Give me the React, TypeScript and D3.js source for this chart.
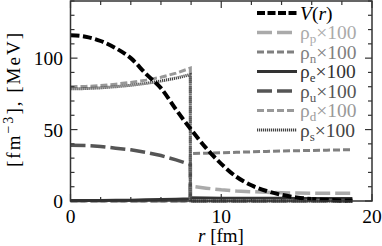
import React from "react";
import * as d3 from "d3";

// radial grid (fm); the phase boundary sits at 7.95 fm, repeated to make the jump
const rGrid = [0, 1, 2, 3, 4, 5, 6, 7, 7.95, 7.95, 9, 10, 11, 12, 13, 14, 15, 16, 17, 18, 18.7];
const rhoP = [0, 0, 0, 0, 0, 0, 0, 0, 0, 10.5, 9, 7.8, 7, 6.5, 6.1, 5.8, 5.6, 5.5, 5.4, 5.4, 5.4];
const rhoN = [0, 0, 0, 0, 0, 0, 0, 0, 0, 33.2, 33.5, 33.8, 34.1, 34.4, 34.7, 35, 35.2, 35.4, 35.6, 35.8, 35.9];
const rhoE = [0.3, 0.3, 0.4, 0.5, 0.6, 0.8, 1.0, 1.2, 1.5, 2.2, 2.1, 2.0, 2.0, 1.9, 1.9, 1.9, 1.8, 1.8, 1.8, 1.8, 1.8];
const rhoU = [39, 38.8, 38.2, 37, 35.8, 34, 31.8, 28.8, 25.5, 0, 0, 0, 0, 0, 0, 0, 0, 0, 0, 0, 0];
const rhoD = [80, 80.2, 80.8, 81.8, 83, 84.6, 86.6, 89.5, 93, 0, 0, 0, 0, 0, 0, 0, 0, 0, 0, 0, 0];
const rhoS = [78.5, 78.7, 79.2, 80, 81, 82.3, 84, 86, 88.5, 0, 0, 0, 0, 0, 0, 0, 0, 0, 0, 0, 0];

// potential V(r) in MeV
const rV = [0, 1, 2, 3, 4, 5, 6, 7, 8, 9, 10, 11, 12, 13, 14, 15, 16, 17, 18, 18.7];
const potV = [116, 115, 112, 107, 100, 89, 79, 64, 50, 37, 26, 17, 11, 7, 4.3, 2.5, 1.4, 0.8, 0.4, 0.3];

const xTicks = [0, 10, 20];
const yTicks = [0, 50, 100];

const W = 382;
const H = 246;

type Series = { sub: string; values: number[]; color: string; width: number; dash: string };

const series: Series[] = [
  { sub: "p", values: rhoP, color: "#aaaaaa", width: 3.5, dash: "15,5" },
  { sub: "n", values: rhoN, color: "#808080", width: 3, dash: "7,3" },
  { sub: "e", values: rhoE, color: "#333333", width: 3, dash: "" },
  { sub: "u", values: rhoU, color: "#555555", width: 3.5, dash: "15,5" },
  { sub: "d", values: rhoD, color: "#999999", width: 3, dash: "7,3" },
  { sub: "s", values: rhoS, color: "#444444", width: 3, dash: "1.2,0.8" },
];

const App: React.FC = () => {
  const x = d3.scaleLinear().domain([0, 20]).range([70.5, 372]);
  const y = d3.scaleLinear().domain([0, 140]).range([201, 1]);

  const rhoLine = (vals: number[]) =>
    d3
      .line<number>()
      .x((_, i) => x(rGrid[i]))
      .y((d) => y(d))
      .curve(d3.curveLinear)(vals) ?? "";

  const vLine =
    d3
      .line<number>()
      .x((_, i) => x(rV[i]))
      .y((d) => y(d))
      .curve(d3.curveMonotoneX)(potV) ?? "";

  const xMinor = d3.range(0, 20.01, 2);
  const yMinor = d3.range(0, 140.01, 10);
  const [x0, x1] = x.range();
  const [yb, yt] = y.range();

  const legendY = (i: number) => 13 + i * 19.5;

  return (
    <div style={{ position: "fixed", left: 0, top: 0 }}>
      <svg
        width={W}
        height={H}
        fontFamily="Liberation Serif"
        fontSize={19.5}
        style={{ display: "block", background: "#fff" }}
      >
        {series.map((s) => (
          <path
            key={s.sub}
            d={rhoLine(s.values)}
            fill="none"
            stroke={s.color}
            strokeWidth={s.width}
            strokeDasharray={s.dash || undefined}
          />
        ))}
        <path d={vLine} fill="none" stroke="#000" strokeWidth={4} strokeDasharray="9,3.5" />

        {/* frame */}
        <rect x={x0} y={yt} width={x1 - x0} height={yb - yt} fill="none" stroke="#333" strokeWidth={1.5} />

        {xMinor.map((v) => {
          const len = xTicks.includes(v) ? 7 : 4;
          return (
            <g key={"xt" + v} stroke="#333" strokeWidth={1.2}>
              <line x1={x(v)} x2={x(v)} y1={yb} y2={yb - len} />
              <line x1={x(v)} x2={x(v)} y1={yt} y2={yt + len} />
            </g>
          );
        })}
        {yMinor.map((v) => {
          const len = yTicks.includes(v) ? 7 : 4;
          return (
            <g key={"yt" + v} stroke="#333" strokeWidth={1.2}>
              <line x1={x0} x2={x0 + len} y1={y(v)} y2={y(v)} />
              <line x1={x1} x2={x1 - len} y1={y(v)} y2={y(v)} />
            </g>
          );
        })}

        {xTicks.map((v) => (
          <text key={"xl" + v} x={x(v)} y={223} textAnchor="middle">
            {v}
          </text>
        ))}
        {yTicks.map((v) => (
          <text key={"yl" + v} x={63} y={y(v) + 7} textAnchor="end">
            {v}
          </text>
        ))}

        <text x={221} y={242} textAnchor="middle" fontSize={19}>
          <tspan fontStyle="italic">r</tspan> [fm]
        </text>
        <text
          transform="translate(20,100) rotate(-90)"
          textAnchor="middle"
          fontSize={19}
          textLength={134}
          lengthAdjust="spacing"
        >
          [fm
          <tspan fontSize={14} dy={-7}>
            −3
          </tspan>
          <tspan dy={7}>], [MeV]</tspan>
        </text>

        {/* legend */}
        <g>
          <line x1={257} x2={297} y1={legendY(0)} y2={legendY(0)} stroke="#000" strokeWidth={4} strokeDasharray="8,2.5" />
          <text x={300} y={legendY(0) + 6.5}>
            <tspan fontStyle="italic">V</tspan>(<tspan fontStyle="italic">r</tspan>)
          </text>
          {series.map((s, i) => (
            <g key={"lg" + s.sub}>
              <line
                x1={257}
                x2={297}
                y1={legendY(i + 1)}
                y2={legendY(i + 1)}
                stroke={s.color}
                strokeWidth={s.width}
                strokeDasharray={s.dash || undefined}
              />
              <text x={300} y={legendY(i + 1) + 6.5} fill={s.color}>
                ρ
                <tspan fontSize={13} dy={4}>
                  {s.sub}
                </tspan>
                <tspan dy={-4}>×100</tspan>
              </text>
            </g>
          ))}
        </g>
      </svg>
    </div>
  );
};

export default App;
